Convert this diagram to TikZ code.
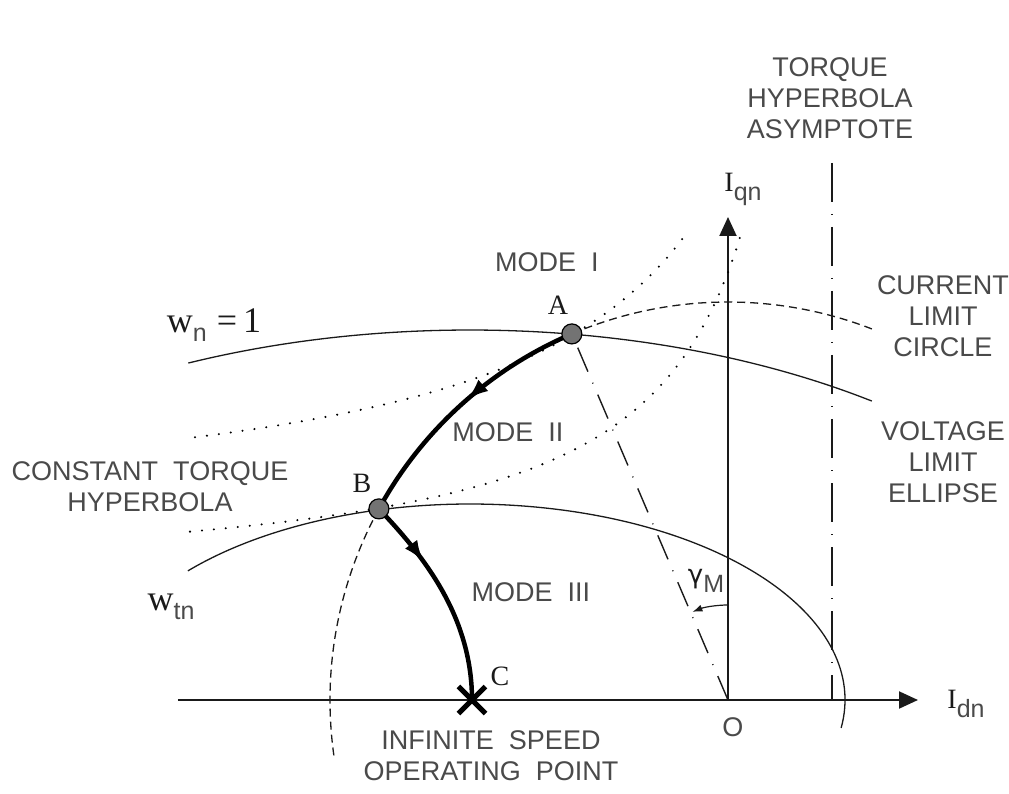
\documentclass[tikz,border=0pt]{standalone}
\usepackage{fontspec}
\setsansfont{Liberation Sans}
\newfontfamily\gfont{DejaVu Sans}
\newfontfamily\serifx{Liberation Serif}
\usetikzlibrary{arrows.meta, shapes.misc, decorations.markings}
\definecolor{ink}{HTML}{1a1a1a}
\definecolor{tag}{HTML}{4a4a4a}
\newcommand{\subtx}[1]{\raisebox{-9pt}{\sffamily\fontsize{25}{25}\selectfont\color{tag}#1}}

\begin{document}
\begin{tikzpicture}[x=1pt, y=1pt, line join=round,
  lbl/.style={font=\sffamily\fontsize{27}{31}\selectfont, text=tag, align=center, inner sep=0},
  ptlbl/.style={font=\serifx\fontsize{28}{31}\selectfont, text=ink, inner sep=0},
  wlbl/.style={font=\serifx\fontsize{36}{38}\selectfont, text=ink, inner sep=0},
  crv/.style={draw=ink, line width=1.3pt},
  axisln/.style={draw=ink, line width=2pt, -{Triangle[length=19pt, width=17pt]}},
  traj/.style={draw=black, line width=4.5pt, postaction={decorate}},
  flow/.style={decoration={markings, mark=at position #1 with {\arrow{Latex[length=22pt, width=15pt]}}}},
  hyp/.style={draw=black, line width=2.3pt, line cap=round, dash pattern=on 0pt off 12pt},
  lim/.style={draw=ink, line width=1.3pt, dash pattern=on 8pt off 5pt},
  ray/.style={draw=ink, line width=1.4pt},
  dotmark/.style={circle, draw=black, fill=black!55, line width=1.2pt, minimum size=20pt, inner sep=0}
]
  \useasboundingbox (-728,-93) rectangle (281,700);
  \coordinate (O) at (0,0);
  \coordinate (A) at (113.1:398);
  \coordinate (B) at (151.3:398);
  \coordinate (C) at (-256,0);
  \coordinate (E) at (-258,0);
  \coordinate (xL) at (-550,0);
  \coordinate (xR) at (190,0);
  \coordinate (yT) at (0,483);
  \coordinate (asT) at (104,537);
  \coordinate (asB) at (104,0);

  % axes and asymptote
  \draw[axisln] (xL) -- (xR);
  \draw[axisln] (O) -- (yT);
  \draw[ray, dash pattern=on 39pt off 12pt on 1pt off 12pt] (asT) -- (asB);
  \draw[ray, dash pattern=on 26pt off 12pt on 1pt off 12pt] (O) -- (A);

  % voltage limit ellipses
  \draw[crv] (E) ++(53.9:682 and 370) arc[start angle=53.9, end angle=114.4, x radius=682, y radius=370];
  \draw[crv] (E) ++(-8.2:375 and 196) arc[start angle=-8.2, end angle=138.8, x radius=375, y radius=196];

  % current limit circle
  \draw[lim] (O) ++(68.8:398) arc[start angle=68.8, end angle=113.1, radius=398];
  \draw[lim] (B) arc[start angle=151.3, end angle=188, radius=398];

  % torque hyperbolas
  \draw[hyp] plot[domain=-533:-40, samples=80] (\x, {173+635.29/((174.9-\x)/100)});
  \draw[hyp] plot[domain=-538:14, samples=80] (\x, {109.6+387.99/((122-\x)/100)});

  \draw[ink, line width=1.2pt, -{Latex[length=10pt, width=7pt]}] (O) ++(90:95) arc[start angle=90, end angle=112, radius=95];

  \draw[traj, flow=0.47] (A) arc[start angle=113.1, end angle=151.3, radius=398];
  \draw[traj, flow=0.32] (B) .. controls +(49,-51) and +(0,80) .. (C);

  \node[dotmark] (ptA) at (A) {};
  \node[dotmark] (ptB) at (B) {};
  \node[cross out, draw=black, line width=5pt, minimum size=22pt, inner sep=0] (ptC) at (C) {};

  \node[lbl] (asym) at (102,602) {TORQUE\\HYPERBOLA\\ASYMPTOTE};
  \node[lbl] (ilim) at (215,384) {CURRENT\\LIMIT\\CIRCLE};
  \node[lbl] (vlim) at (215,238) {VOLTAGE\\LIMIT\\ELLIPSE};
  \node[lbl] (cth) at (-578,213) {CONSTANT~~TORQUE\\HYPERBOLA};
  \node[lbl] (m1) at (-181,438) {MODE~~I};
  \node[lbl] (m2) at (-220,268) {MODE~~II};
  \node[lbl] (m3) at (-197,108) {MODE~~III};
  \node[lbl] (inf) at (-237,-56) {INFINITE~~SPEED\\OPERATING~~POINT};
  \node[lbl] (lo) at (5,-27) {O};
  \node[ptlbl] (la) at (-170,395) {A};
  \node[ptlbl] (lb) at (-366,217) {B};
  \node[ptlbl] (lc) at (-228,24) {C};
  \node[ptlbl] (iq) at (15,511) {I\subtx{qn}};
  \node[ptlbl] (id) at (238,-4) {I\subtx{dn}};
  \node[wlbl] (wn) at (-514,375) {w\subtx{n}\hspace{10pt}=\hspace{6pt}1};
  \node[wlbl] (wt) at (-557,93) {w\subtx{tn}};
  \node[ptlbl] (gm) at (-22,119) {{\gfont\fontsize{26}{26}\selectfont γ}\subtx{M}};
\end{tikzpicture}
\end{document}
